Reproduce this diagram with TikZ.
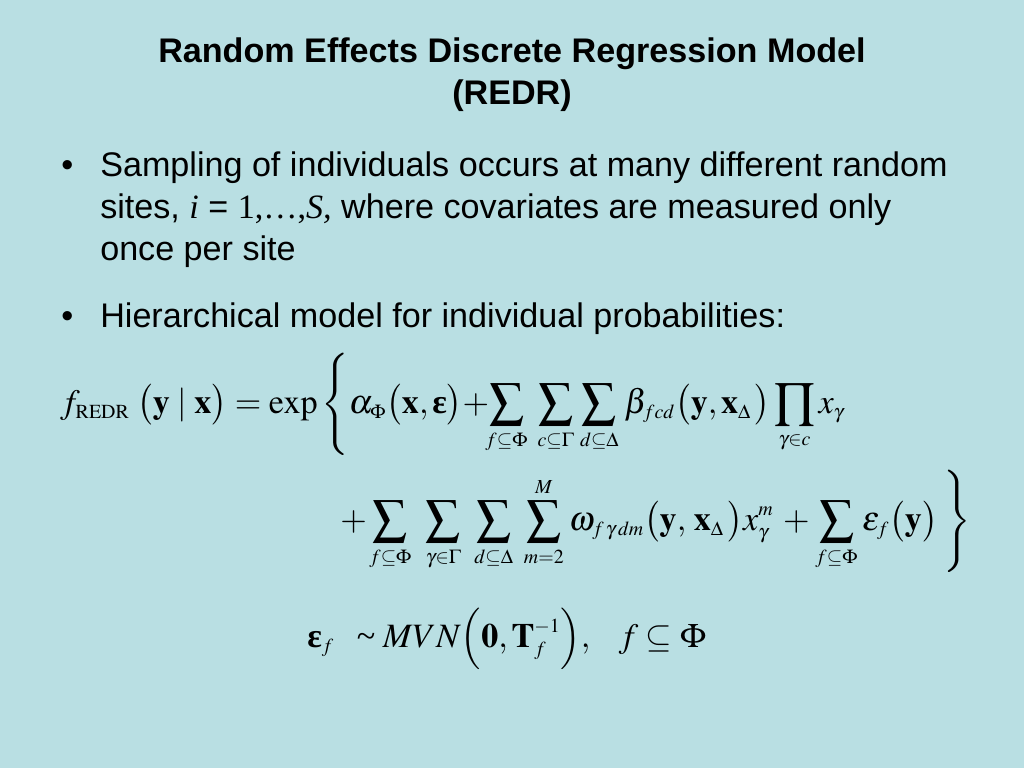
\documentclass[tikz,border=0pt]{standalone}
\usepackage{amsmath}
\usepackage{mathptmx}
\usepackage[no-math]{fontspec}
\setmainfont{Liberation Sans}
\newfontfamily\tms{Liberation Serif}
\DeclareMathSizes{24}{24}{14}{10}
\newcommand{\beps}{\mbox{\tms\bfseries ε}}
\newcommand{\ttilde}{\mbox{\tms\char126}}
\newcommand{\lz}[1]{\hbox to 0pt{\hss$\scriptstyle #1$\hss}}
\newcommand{\spA}{\thickmuskip=4mu\relax\medmuskip=0mu\relax}
\newcommand{\spB}{\thickmuskip=4mu\relax\medmuskip=5mu\relax}
\definecolor{bg}{RGB}{185,223,227}
\begin{document}
\begin{tikzpicture}[x=0.703125pt,y=-0.703125pt]
\tikzset{
  titletext/.style={font=\fontsize{24}{29}\selectfont\bfseries, anchor=base, inner sep=0pt},
  bodytext/.style={font=\fontsize{24}{29}\selectfont, anchor=base west, inner sep=0pt},
  eqtext/.style={font=\fontsize{24}{29}\selectfont, anchor=base west, inner sep=0pt},
}
\fill[bg] (0,0) rectangle (1024,768);
\useasboundingbox (0,0) rectangle (1024,768);
% title
\node[titletext] (t1) at (512,63) {Random Effects Discrete Regression Model};
\node[titletext] (t2) at (512,105) {(REDR)};
% bullet 1
\node[bodytext] (b1) at (61,177) {•};
\node[bodytext] (l1) at (100,177) {Sampling of individuals occurs at many different random};
\node[bodytext] (l2) at (100,219) {sites, {\tms\itshape i} = {\tms 1,…,}{\tms\itshape S,} where covariates are measured only};
\node[bodytext] (l3) at (100,261) {once per site};
% bullet 2
\node[bodytext] (b2) at (61,328) {•};
\node[bodytext] (l4) at (100,328) {Hierarchical model for individual probabilities:};
% equations
\node[eqtext] (e1) at (60,413) {$\spA\displaystyle f_{\mathrm{REDR}}\;\bigl(\mathbf{y}\;|\;\mathbf{x}\bigr)=\exp\left\{\rule[-31pt]{0pt}{74pt}\alpha_{\Phi}\bigl(\mathbf{x},\beps\bigr)+\sum_{\lz{f\subseteq\Phi}}\mskip5.5mu\sum_{\lz{c\subseteq\Gamma}}\mskip2.5mu\sum_{\lz{d\subseteq\Delta}}\mskip2mu\beta_{fcd}\bigl(\mathbf{y},\mathbf{x}_{\Delta}\,\bigr)\prod_{\gamma\in c}x_{\gamma}\right.$};
\node[eqtext] (e2) at (340,530) {$\spB\displaystyle +\mskip1.2mu\sum_{\lz{f\subseteq\Phi}}\mskip7.5mu\sum_{\lz{\gamma\in\Gamma}}\mskip6mu\sum_{\lz{d\subseteq\Delta}}\mskip6mu\sum_{\lz{m=2}}^{\lz{M}}\mskip2mu\omega_{f\,\gamma\,dm}\bigl(\mathbf{y},\,\mathbf{x}_{\Delta}\,\bigr)x_{\gamma}^{m}+\sum_{\lz{f\subseteq\Phi}}\mskip2.3mu\varepsilon_{f}\bigl(\mathbf{y}\bigr)\left.\rule[-31pt]{0pt}{74pt}\right\}$};
\node[eqtext] (e3) at (307,647) {$\spB\displaystyle \beps_{f}\;\;\;\ttilde\; MVN\Bigl(\mathbf{0},\mathbf{T}_{f}^{-1}\Bigr),\mskip13mu f\subseteq\Phi$};
\end{tikzpicture}
\end{document}
